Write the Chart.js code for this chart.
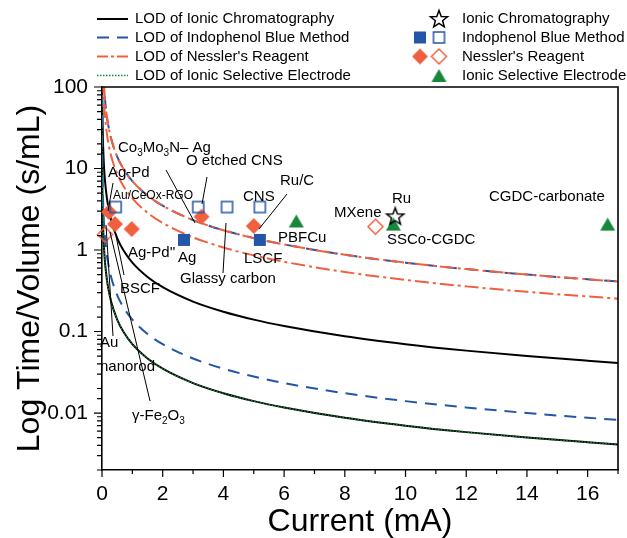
<!DOCTYPE html>
<html>
<head>
<meta charset="utf-8">
<script src="https://cdn.jsdelivr.net/npm/chart.js@4.4.1/dist/chart.umd.min.js"></script>
<style>
  body { margin: 0; background: #fff; }
  #wrap { width: 627px; height: 538px; position: relative; }
</style>
</head>
<body>
<div id="wrap"><canvas id="chart"></canvas></div>
<script>
// LOD curves (current in mA)
const current = [0.001, 0.005, 0.01, 0.02, 0.03, 0.05, 0.07, 0.1, 0.15, 0.2, 0.3, 0.5, 0.7, 1, 1.5, 2, 3, 4, 5, 6, 8, 10, 12, 14, 16, 17];
const lodIC = [700, 140, 70, 35, 23.3, 14, 10, 7, 4.67, 3.5, 2.33, 1.4, 1.0, 0.7, 0.467, 0.35, 0.233, 0.175, 0.14, 0.117, 0.0875, 0.07, 0.0583, 0.05, 0.0438, 0.0412];
const lodIndoLow = [140, 28, 14, 7, 4.67, 2.8, 2.0, 1.4, 0.933, 0.7, 0.467, 0.28, 0.2, 0.14, 0.0933, 0.07, 0.0467, 0.035, 0.028, 0.0233, 0.0175, 0.014, 0.0117, 0.01, 0.00875, 0.00824];
const lodIndoHigh = [7000, 1400, 700, 350, 233, 140, 100, 70, 46.7, 35, 23.3, 14, 10, 7, 4.67, 3.5, 2.33, 1.75, 1.4, 1.17, 0.875, 0.7, 0.583, 0.5, 0.4375, 0.412];
const lodNesslerHigh = [7000, 1400, 700, 350, 233, 140, 100, 70, 46.7, 35, 23.3, 14, 10, 7, 4.67, 3.5, 2.33, 1.75, 1.4, 1.17, 0.875, 0.7, 0.583, 0.5, 0.4375, 0.412];
const lodNesslerLow = [4300, 860, 430, 215, 143, 86, 61.4, 43, 28.7, 21.5, 14.3, 8.6, 6.14, 4.3, 2.87, 2.15, 1.43, 1.075, 0.86, 0.717, 0.5375, 0.43, 0.358, 0.307, 0.269, 0.253];
const lodISE = [70, 14, 7, 3.5, 2.33, 1.4, 1.0, 0.7, 0.467, 0.35, 0.233, 0.14, 0.1, 0.07, 0.0467, 0.035, 0.0233, 0.0175, 0.014, 0.0117, 0.00875, 0.007, 0.00583, 0.005, 0.00438, 0.00412];

// reported catalysts
const icX = [9.66], icY = [2.59];
const indoFilledX = [2.7, 5.2], indoFilledY = [1.33, 1.33];
const indoOpenX = [0.45, 3.17, 4.12, 5.2], indoOpenY = [3.37, 3.37, 3.37, 3.37];
const nessFilledX = [0.23, 0.43, 0.98, 3.28, 5.0], nessFilledY = [2.93, 2.08, 1.81, 2.56, 1.97];
const nessOpenX = [0.1, 9.01], nessOpenY = [1.55, 1.93];
const iseX = [6.4, 9.6, 16.66], iseY = [2.27, 2.08, 2.08];

const BLUE = "#2356a8", RED = "#f0603f", GREEN = "#17873c";
const FONT = "'Liberation Sans', Arial, sans-serif";

function pts(xs, ys) { return xs.map((x, i) => ({ x: x, y: ys[i] })); }

function marker(shape, fill, stroke, size) {
  const c = document.createElement("canvas");
  c.width = c.height = Math.ceil(size) + 4;
  const g = c.getContext("2d");
  const m = c.width / 2, r = size / 2;
  g.beginPath();
  if (shape === "square") {
    g.rect(m - r, m - r, size, size);
  } else if (shape === "diamond") {
    g.moveTo(m, m - r); g.lineTo(m + r, m); g.lineTo(m, m + r); g.lineTo(m - r, m);
  } else if (shape === "triangle") {
    g.moveTo(m, m - r * 0.87); g.lineTo(m + r, m + r * 0.87); g.lineTo(m - r, m + r * 0.87);
  } else if (shape === "star") {
    for (let k = 0; k < 10; k++) {
      const rr = k % 2 ? r * 0.42 : r;
      const a = -Math.PI / 2 + k * Math.PI / 5;
      g.lineTo(m + rr * Math.cos(a), m + 0.5 + rr * Math.sin(a));
    }
  }
  g.closePath();
  if (fill) { g.fillStyle = fill; g.fill(); }
  if (stroke) { g.lineWidth = 1.5; g.strokeStyle = stroke; g.stroke(); }
  return c;
}

const mk = {
  star: marker("star", null, "#000", 18),
  sqFill: marker("square", BLUE, null, 12),
  sqOpen: marker("square", null, BLUE, 11),
  diaFill: marker("diamond", RED, null, 16),
  diaOpen: marker("diamond", null, RED, 15),
  tri: marker("triangle", GREEN, null, 15)
};

function lineSet(ys, color, dash, width, order) {
  return {
    type: "line", data: pts(current, ys), borderColor: color, borderWidth: width,
    borderDash: dash, pointRadius: 0, cubicInterpolationMode: "monotone", fill: false, order: order
  };
}
function pointSet(xs, ys, img) {
  return { type: "scatter", data: pts(xs, ys), pointStyle: img, pointRadius: 8, clip: false, order: 0 };
}

// text labels next to the points (canvas pixels)
const labels = [
  { t: ["Co", { sub: "3" }, "Mo", { sub: "3" }, "N\u2013 Ag"], x: 118, y: 148 },
  { t: ["O etched CNS"], x: 186, y: 161 },
  { t: ["Ag-Pd"], x: 108, y: 173 },
  { t: ["Au/CeOx-RGO"], x: 113, y: 196, size: 12 },
  { t: ["CNS"], x: 243, y: 197 },
  { t: ["Ru/C"], x: 280, y: 181 },
  { t: ["Ag-Pd''"], x: 128, y: 253 },
  { t: ["Ag"], x: 178, y: 258 },
  { t: ["LSCF"], x: 244, y: 259 },
  { t: ["Glassy carbon"], x: 180, y: 279 },
  { t: ["BSCF"], x: 120, y: 289 },
  { t: ["PBFCu"], x: 278, y: 238 },
  { t: ["MXene"], x: 334, y: 213 },
  { t: ["Ru"], x: 392, y: 199 },
  { t: ["SSCo-CGDC"], x: 387, y: 240 },
  { t: ["CGDC-carbonate"], x: 489, y: 197 },
  { t: ["Au"], x: 100, y: 343 },
  { t: ["nanorod"], x: 100, y: 367 },
  { t: ["\u03b3-Fe", { sub: "2" }, "O", { sub: "3" }], x: 132, y: 416 }
];
const leaders = [
  [166, 170, 195, 223], [207, 177, 202, 204], [113, 183, 108, 211],
  [287, 194, 259, 229], [223, 273, 226, 223], [106, 225, 113, 336],
  [110, 232, 150, 401], [116, 236, 124, 275]
];

function richText(ctx, parts, x, y, size) {
  let cx = x;
  parts.forEach(p => {
    if (typeof p === "string") {
      ctx.font = size + "px " + FONT;
      ctx.fillText(p, cx, y);
      cx += ctx.measureText(p).width;
    } else {
      ctx.font = Math.round(size * 0.68) + "px " + FONT;
      ctx.fillText(p.sub, cx, y + size * 0.32);
      cx += ctx.measureText(p.sub).width;
    }
  });
}

function isDecade(v) {
  const l = Math.log10(v);
  return Math.abs(l - Math.round(l)) < 1e-6;
}

const decor = {
  id: "decor",
  afterDraw(chart) {
    const ctx = chart.ctx, a = chart.chartArea;
    const xs = chart.scales.x, ys = chart.scales.y;
    ctx.save();
    ctx.strokeStyle = "#000";
    ctx.lineWidth = 1.6;
    ctx.beginPath();
    ctx.moveTo(a.left, a.top); ctx.lineTo(a.right, a.top); ctx.lineTo(a.right, a.bottom);
    ctx.stroke();

    // tick marks
    ctx.lineWidth = 1.2;
    ctx.beginPath();
    xs.ticks.forEach(t => {
      const px = xs.getPixelForValue(t.value);
      const len = t.value % 2 === 0 ? 7 : 4;
      ctx.moveTo(px, a.bottom); ctx.lineTo(px, a.bottom + len);
    });
    ys.ticks.forEach(t => {
      const py = ys.getPixelForValue(t.value);
      const len = isDecade(t.value) ? 8 : 5;
      ctx.moveTo(a.left, py); ctx.lineTo(a.left - len, py);
    });
    ctx.stroke();

    // axis titles
    ctx.fillStyle = "#000";
    ctx.font = "32px " + FONT;
    ctx.textAlign = "center";
    ctx.textBaseline = "middle";
    ctx.fillText("Current (mA)", (a.left + a.right) / 2, 522);
    ctx.save();
    ctx.translate(30, (a.top + a.bottom) / 2);
    ctx.rotate(-Math.PI / 2);
    ctx.fillText("Log Time/Volume (s/mL)", 0, 0);
    ctx.restore();

    // leader lines
    ctx.lineWidth = 1;
    ctx.beginPath();
    leaders.forEach(l => { ctx.moveTo(l[0], l[1]); ctx.lineTo(l[2], l[3]); });
    ctx.stroke();

    // point labels
    ctx.textAlign = "left";
    labels.forEach(l => richText(ctx, l.t, l.x, l.y, l.size || 15));

    // legend
    const rows = [19, 37.5, 56.5, 75.5];
    const lineStyles = [
      { c: "#000", d: [], w: 2 },
      { c: BLUE, d: [12, 8], w: 2 },
      { c: RED, d: [11, 3, 3, 3], w: 2 },
      { c: GREEN, d: [1.5, 1.5], w: 1.5 }
    ];
    const lineNames = ["LOD of Ionic Chromatography", "LOD of Indophenol Blue Method",
      "LOD of Nessler's Reagent", "LOD of Ionic Selective Electrode"];
    const ptNames = ["Ionic Chromatography", "Indophenol Blue Method", "Nessler's Reagent", "Ionic Selective Electrode"];
    const ptIcons = [[null, mk.star], [mk.sqFill, mk.sqOpen], [mk.diaFill, mk.diaOpen], [null, mk.tri]];
    ctx.font = "15px " + FONT;
    rows.forEach((y, i) => {
      const s = lineStyles[i];
      ctx.beginPath();
      ctx.setLineDash(s.d);
      ctx.strokeStyle = s.c;
      ctx.lineWidth = s.w;
      ctx.moveTo(97, y); ctx.lineTo(128, y);
      ctx.stroke();
      ctx.setLineDash([]);
      ctx.fillText(lineNames[i], 135, y);
      ptIcons[i].forEach((img, j) => {
        if (!img) return;
        const cx = j === 0 ? 420 : 439;
        ctx.drawImage(img, cx - img.width / 2, y - img.height / 2);
      });
      ctx.fillText(ptNames[i], 462, y);
    });
    ctx.restore();
  }
};

new Chart(document.getElementById("chart"), {
  data: {
    datasets: [
      pointSet(icX, icY, mk.star),
      pointSet(indoFilledX, indoFilledY, mk.sqFill),
      pointSet(indoOpenX, indoOpenY, mk.sqOpen),
      pointSet(nessFilledX, nessFilledY, mk.diaFill),
      pointSet(nessOpenX, nessOpenY, mk.diaOpen),
      pointSet(iseX, iseY, mk.tri),
      lineSet(lodNesslerHigh, RED, [14, 4, 3, 4], 2, 1),
      lineSet(lodNesslerLow, RED, [14, 4, 3, 4], 2, 1),
      lineSet(lodIndoHigh, BLUE, [12, 8], 2, 2),
      lineSet(lodIndoLow, BLUE, [12, 8], 2, 2),
      lineSet(lodISE, GREEN, [1.5, 1.5], 1.3, 1),
      lineSet(lodISE, "#000", [], 2, 3),
      lineSet(lodIC, "#000", [], 2, 3)
    ]
  },
  options: {
    responsive: true,
    maintainAspectRatio: false,
    animation: false,
    layout: { padding: { top: 87, right: 8, left: 0, bottom: 0 } },
    plugins: { legend: { display: false }, tooltip: { enabled: false } },
    scales: {
      x: {
        type: "linear", min: 0, max: 17,
        border: { color: "#000", width: 1.6 },
        grid: { display: true, drawOnChartArea: false, drawTicks: false },
        ticks: {
          stepSize: 1, autoSkip: false, maxRotation: 0, padding: 12, color: "#000",
          font: { family: FONT, size: 21 },
          callback: v => (v % 2 === 0 ? String(v) : "")
        },
        afterFit: s => { s.height = 68; s.paddingLeft = 0; s.paddingRight = 0; }
      },
      y: {
        type: "logarithmic", min: 0.002, max: 100,
        border: { color: "#000", width: 1.6 },
        grid: { display: true, drawOnChartArea: false, drawTicks: false },
        ticks: {
          autoSkip: false, padding: 14, color: "#000",
          font: { family: FONT, size: 21 },
          callback: v => {
            if (!isDecade(v)) return "";
            const e = Math.round(Math.log10(v));
            if (e < -2) return "";
            return e >= 0 ? String(Math.pow(10, e)) : Math.pow(10, e).toFixed(-e);
          }
        },
        afterFit: s => { s.width = 102; }
      }
    }
  },
  plugins: [decor]
});
</script>
</body>
</html>
